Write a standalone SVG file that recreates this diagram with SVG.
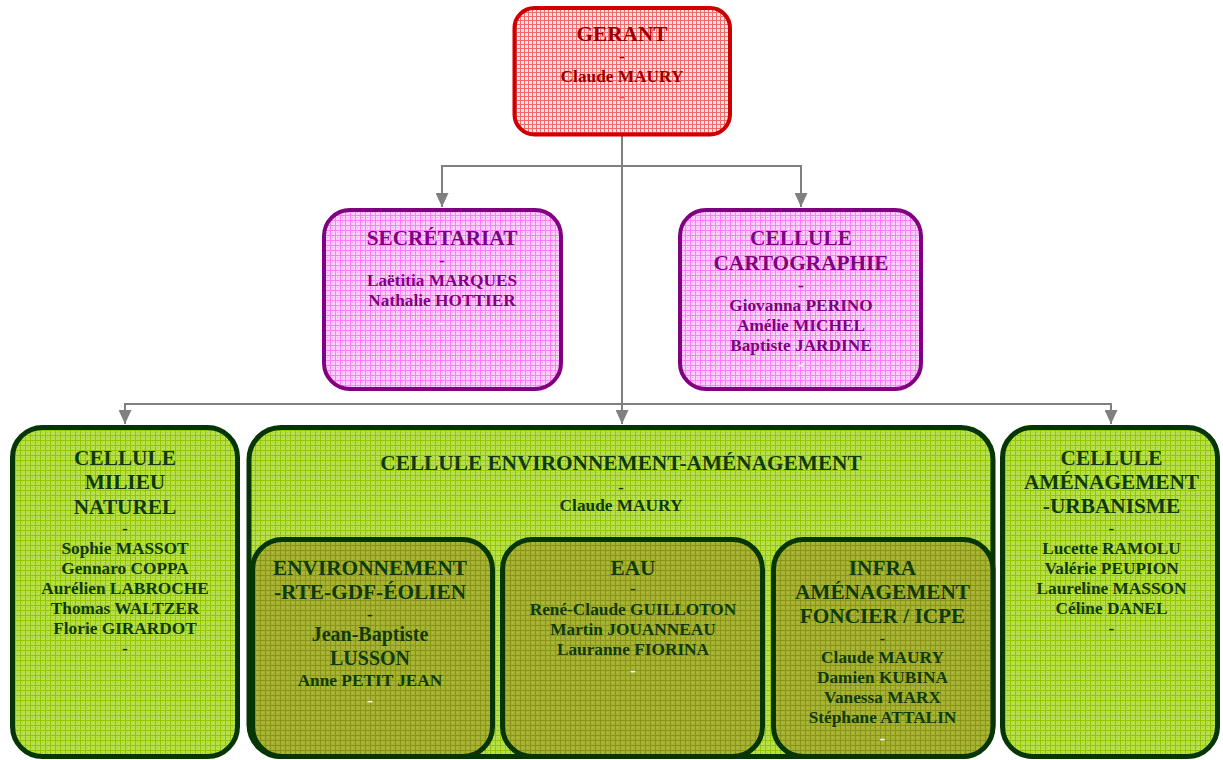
<svg xmlns="http://www.w3.org/2000/svg" width="1223" height="760" viewBox="0 0 1223 760">
<style>
text{font-family:"Liberation Serif","Times New Roman",serif;font-weight:bold;text-anchor:middle}
.t{font-size:21.3px}
.n{font-size:17.3px}
.m{font-size:20px}
.red text{fill:#990000}
.pur text{fill:#800080}
.grn text{fill:#0F3A0A}
.w{fill:#FFFFFF !important}
.lr{fill:#D06060 !important}
.conn path{fill:none;stroke:#808080;stroke-width:2}
</style>
<defs>
<pattern id="pRed" width="4" height="4" patternUnits="userSpaceOnUse"><rect width="4" height="4" fill="#FFE4E4"/><path d="M0 0.5H4M0.5 0V4" stroke="#F06A6A" stroke-width="1"/></pattern>
<pattern id="pPink" width="5" height="5" patternUnits="userSpaceOnUse"><rect width="5" height="5" fill="#FFD2FF"/><path d="M0 0.5H5M0.5 0V5" stroke="#FF7CFF" stroke-width="1"/><rect x="2" y="2" width="1" height="1" fill="#FF9CFF"/></pattern>
<pattern id="pGreen" width="5" height="5" patternUnits="userSpaceOnUse"><rect width="5" height="5" fill="#B8E152"/><path d="M0 0.5H5M0.5 0V5" stroke="#96C400" stroke-width="1"/><rect x="2" y="2" width="1" height="1" fill="#A6D030"/></pattern>
<pattern id="pOlive" width="5" height="5" patternUnits="userSpaceOnUse"><rect width="5" height="5" fill="#A6B234"/><path d="M0 0.5H5M0.5 0V5" stroke="#889516" stroke-width="1"/><rect x="2" y="2" width="1" height="1" fill="#B4C040"/></pattern>
<marker id="arr" markerUnits="userSpaceOnUse" markerWidth="14" markerHeight="13" viewBox="0 0 14 13" refX="14" refY="6.5" orient="auto"><path d="M0 0L14 6.5L0 13z" fill="#808080"/></marker>
</defs>

<g id="connectors" class="conn">
<path d="M622 136V424" marker-end="url(#arr)"/>
<path d="M622 166H442V207" marker-end="url(#arr)"/>
<path d="M622 166H801V207" marker-end="url(#arr)"/>
<path d="M622 404H125V424" marker-end="url(#arr)"/>
<path d="M622 404H1111V424" marker-end="url(#arr)"/>
</g>

<g id="gerant" class="red">
<rect x="514.5" y="8" width="215.5" height="126.5" rx="20" fill="url(#pRed)" stroke="#CC0000" stroke-width="4"/>
<text class="t" x="622" y="41">GERANT</text>
<text class="n" x="622" y="62">-</text>
<text class="n" x="622" y="82">Claude MAURY</text>
<text class="n lr" x="622" y="101.5">-</text>
</g>

<g id="secretariat" class="pur">
<rect x="324" y="210" width="237" height="179" rx="26" fill="url(#pPink)" stroke="#800080" stroke-width="4"/>
<text class="t" x="442" y="245">SECRÉTARIAT</text>
<text class="n" x="442" y="266">-</text>
<text class="n" x="442" y="286">Laëtitia MARQUES</text>
<text class="n" x="442" y="306">Nathalie HOTTIER</text>
<text class="n w" x="442" y="327.5">-</text>
</g>

<g id="cartographie" class="pur">
<rect x="680" y="210" width="241" height="179" rx="26" fill="url(#pPink)" stroke="#800080" stroke-width="4"/>
<text class="t" x="801" y="244.5">CELLULE</text>
<text class="t" x="801" y="269.5">CARTOGRAPHIE</text>
<text class="n" x="801" y="291">-</text>
<text class="n" x="801" y="311">Giovanna PERINO</text>
<text class="n" x="801" y="331">Amélie MICHEL</text>
<text class="n" x="801" y="351">Baptiste JARDINE</text>
<text class="n w" x="801" y="370">-</text>
</g>

<g id="milieu-naturel" class="grn">
<rect x="12.5" y="427.5" width="225" height="329" rx="30" fill="url(#pGreen)" stroke="#063506" stroke-width="5"/>
<text class="t" x="125" y="464.5">CELLULE</text>
<text class="t" x="125" y="489">MILIEU</text>
<text class="t" x="125" y="513.5">NATUREL</text>
<text class="n" x="125" y="534">-</text>
<text class="n" x="125" y="553.5">Sophie MASSOT</text>
<text class="n" x="125" y="573.5">Gennaro COPPA</text>
<text class="n" x="125" y="593.5">Aurélien LABROCHE</text>
<text class="n" x="125" y="613.5">Thomas WALTZER</text>
<text class="n" x="125" y="633.5">Florie GIRARDOT</text>
<text class="n" x="125" y="654">-</text>
</g>

<g id="env-amenagement" class="grn">
<rect x="249" y="427.5" width="744" height="329" rx="32" fill="url(#pGreen)" stroke="#063506" stroke-width="5"/>
<text class="t" x="621" y="470">CELLULE ENVIRONNEMENT-AMÉNAGEMENT</text>
<text class="n" x="621" y="492.5">-</text>
<text class="n" x="621" y="511">Claude MAURY</text>
</g>

<g id="amenagement-urbanisme" class="grn">
<rect x="1002.5" y="427.5" width="215" height="329" rx="30" fill="url(#pGreen)" stroke="#063506" stroke-width="5"/>
<text class="t" x="1111.5" y="464.5">CELLULE</text>
<text class="t" x="1111.5" y="488.5">AMÉNAGEMENT</text>
<text class="t" x="1111.5" y="513">-URBANISME</text>
<text class="n" x="1111.5" y="534">-</text>
<text class="n" x="1111.5" y="553.5">Lucette RAMOLU</text>
<text class="n" x="1111.5" y="573.5">Valérie PEUPION</text>
<text class="n" x="1111.5" y="593.5">Laureline MASSON</text>
<text class="n" x="1111.5" y="613.5">Céline DANEL</text>
<text class="n" x="1111.5" y="634">-</text>
</g>

<g id="environnement" class="grn">
<rect x="252.5" y="539.5" width="240" height="217" rx="30" fill="url(#pOlive)" stroke="#063506" stroke-width="5"/>
<text class="t" x="370" y="575">ENVIRONNEMENT</text>
<text class="t" x="370" y="598.5">-RTE-GDF-ÉOLIEN</text>
<text class="n" x="370" y="620">-</text>
<text class="m" x="370" y="641">Jean-Baptiste</text>
<text class="m" x="370" y="665">LUSSON</text>
<text class="n" x="370" y="685.5">Anne PETIT JEAN</text>
<text class="n w" x="370" y="706">-</text>
</g>

<g id="eau" class="grn">
<rect x="502.5" y="539.5" width="260" height="217" rx="30" fill="url(#pOlive)" stroke="#063506" stroke-width="5"/>
<text class="t" x="633" y="574.5">EAU</text>
<text class="n" x="633" y="594">-</text>
<text class="n" x="633" y="615">René-Claude GUILLOTON</text>
<text class="n" x="633" y="635">Martin JOUANNEAU</text>
<text class="n" x="633" y="654.5">Lauranne FIORINA</text>
<text class="n w" x="633" y="676">-</text>
</g>

<g id="infra" class="grn">
<rect x="773.5" y="539.5" width="219.5" height="217" rx="30" fill="url(#pOlive)" stroke="#063506" stroke-width="5"/>
<text class="t" x="882.5" y="574.5">INFRA</text>
<text class="t" x="882.5" y="598.5">AMÉNAGEMENT</text>
<text class="t" x="882.5" y="622.5">FONCIER / ICPE</text>
<text class="n" x="882.5" y="644">-</text>
<text class="n" x="882.5" y="663">Claude MAURY</text>
<text class="n" x="882.5" y="683">Damien KUBINA</text>
<text class="n" x="882.5" y="703">Vanessa MARX</text>
<text class="n" x="882.5" y="723">Stéphane ATTALIN</text>
<text class="n w" x="882.5" y="743.5">-</text>
</g>
</svg>
